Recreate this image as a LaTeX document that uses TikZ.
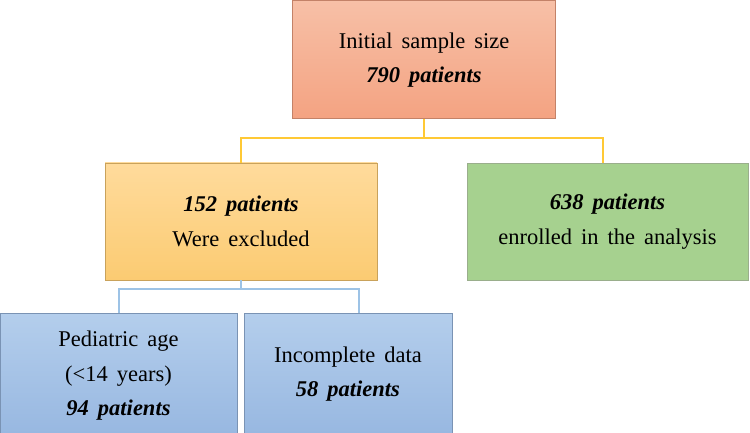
\documentclass[tikz,border=0pt]{standalone}
\usepackage{fontspec}
\setmainfont{Liberation Serif}
\definecolor{topA}{HTML}{F7C0A7}
\definecolor{topB}{HTML}{F4A382}
\definecolor{orA}{HTML}{FFDB9C}
\definecolor{orB}{HTML}{FBCB72}
\definecolor{grn}{HTML}{A6D18F}
\definecolor{grnE}{HTML}{9AAE8C}
\definecolor{bluA}{HTML}{B4CEEC}
\definecolor{bluB}{HTML}{98B8E1}
\definecolor{ylw}{HTML}{FFC935}
\definecolor{lblu}{HTML}{9DC3E6}
\newcommand\myboxfont{\fontsize{22.5}{34.5}\selectfont\spaceskip=0.4em plus 0.1em\relax}
\tikzset{
  box/.style={draw=#1, line width=0.8pt, inner sep=0pt, align=center, font=\myboxfont},
  conY/.style={draw=ylw, line width=1.3pt},
  conB/.style={draw=lblu, line width=1.3pt}
}
\begin{document}
\begin{tikzpicture}[x=1pt,y=-1pt]
\useasboundingbox (0,0) rectangle (750,433);
\shade[top color=topA, bottom color=topB] (292.5,0) rectangle (555.5,118);
\draw[draw=topB!80!black, line width=0.8pt] (292.5,0) rectangle (555.5,118);
\node[box=topB, draw=none, minimum width=263pt, minimum height=118pt] (top) at (424,60) {Initial sample size\\\textbf{\textit{790 patients}}};
\shade[top color=orA, bottom color=orB] (105,163) rectangle (377,280);
\draw[draw=orB!80!black, line width=0.8pt] (105,163) rectangle (377,280);
\node[box=orB, draw=none, minimum width=272pt, minimum height=117pt] (exc) at (241,221.5) {\textbf{\textit{152 patients}}\\Were excluded};
\node[box=grnE, fill=grn, minimum width=281pt, minimum height=117pt] (inc) at (607.5,221.5) {\textbf{\textit{638 patients}}\\enrolled in the analysis};
\shade[top color=bluA, bottom color=bluB] (0,313) rectangle (237,433);
\draw[draw=bluB!80!black, line width=0.8pt] (0,313) rectangle (237,433);
\node[box=bluB, draw=none, minimum width=237pt, minimum height=120pt] (ped) at (118.5,376) {Pediatric age\\(<14 years)\\\textbf{\textit{94 patients}}};
\shade[top color=bluA, bottom color=bluB] (244,313) rectangle (452,433);
\draw[draw=bluB!80!black, line width=0.8pt] (244,313) rectangle (452,433);
\node[box=bluB, draw=none, minimum width=208pt, minimum height=120pt] (inc2) at (348,374) {Incomplete data\\\textbf{\textit{58 patients}}};
\coordinate (ym) at (424,138);
\coordinate (gtop) at (603,163);
\draw[conY] (top.south) -- (ym);
\draw[conY] (ym) -| (exc.north);
\draw[conY] (ym) -| (gtop);
\coordinate (bm) at (241,289);
\coordinate (ptop) at (119,313);
\coordinate (itop) at (359,313);
\draw[conB] (exc.south) -- (bm);
\draw[conB] (bm) -| (ptop);
\draw[conB] (bm) -| (itop);
\end{tikzpicture}
\end{document}
